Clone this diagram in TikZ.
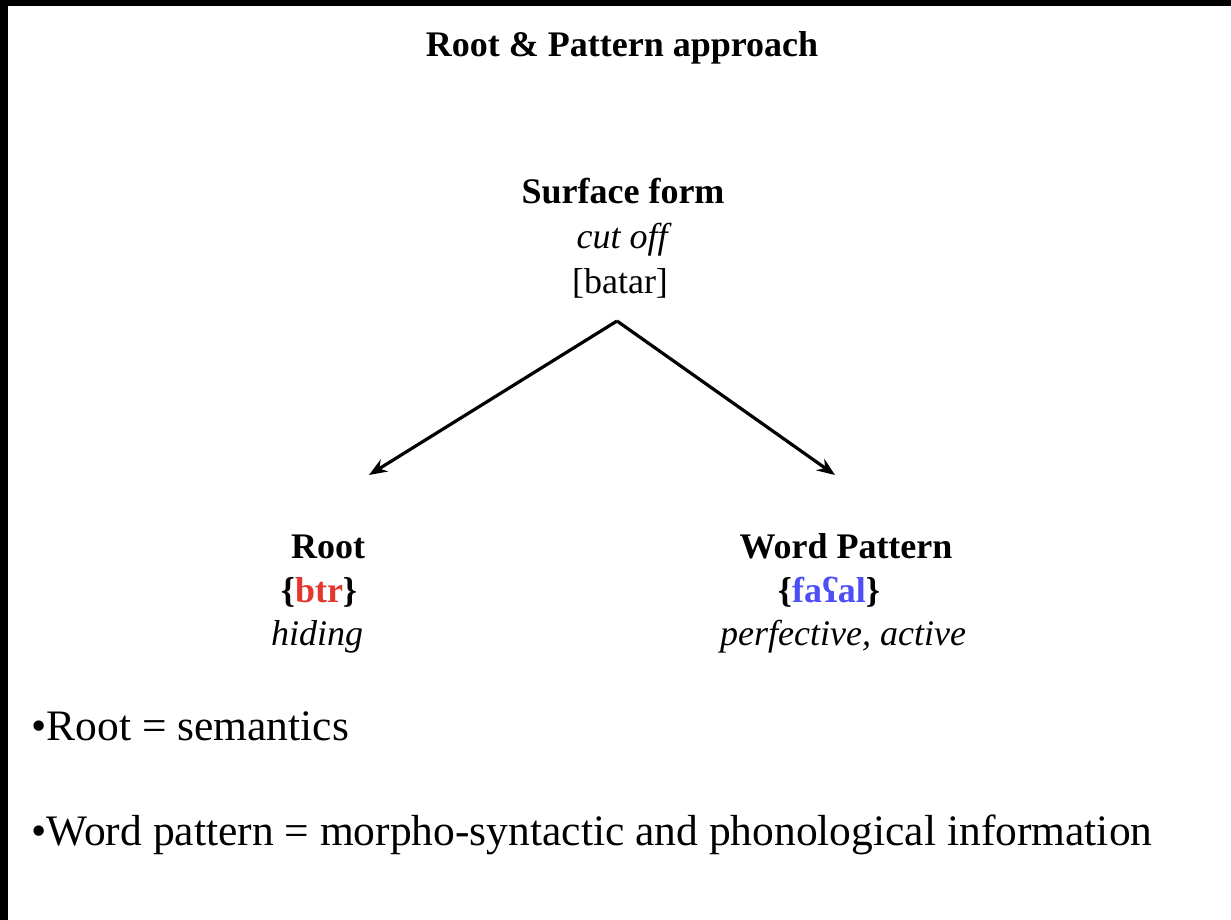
\documentclass[tikz,border=0pt]{standalone}
\usepackage{fontspec}
\setmainfont{Liberation Serif}
\usepackage{xcolor}
\usetikzlibrary{arrows.meta}
\definecolor{rootred}{HTML}{E4362C}
\definecolor{patblue}{HTML}{4E4EF6}
\newcommand{\midsize}{\fontsize{18}{22}\selectfont}

\begin{document}
\begin{tikzpicture}[x=0.5pt, y=-0.5pt,
    txt/.style={anchor=base, inner sep=0pt, font=\midsize},
    hd/.style={txt, font=\midsize\bfseries},
    gloss/.style={txt, font=\midsize\itshape},
    bullet/.style={anchor=base west, inner sep=0pt, font=\fontsize{21.75}{26}\selectfont}]
  \useasboundingbox (0,0) rectangle (1231,920);
  \fill[white] (0,0) rectangle (1231,920);
  \fill[black] (0,0) rectangle (1231,6);
  \fill[black] (0,0) rectangle (8,920);

  \node[hd] (title) at (622,57) {Root \& Pattern approach};

  % surface form
  \node[hd] (sf) at (623,203) {Surface form};
  \node[gloss] (sfgloss) at (622,248) {cut off};
  \node[txt] (sfform) at (620,293) {[batar]};
  \coordinate (apex) at (617,321);

  % root and pattern
  \node[hd] (root) at (328,558) {Root};
  \node[hd] (rootcons) at (319,602) {\{\textcolor{rootred}{btr}\}};
  \node[gloss] (rootgloss) at (317,645) {hiding};
  \node[hd] (pat) at (846,558) {Word Pattern};
  \node[hd] (patform) at (829,602) {\{\textcolor{patblue}{faʕal}\}};
  \node[gloss] (patgloss) at (843,645) {perfective, active};
  \coordinate (rootend) at (369,475);
  \coordinate (patend) at (835,475);

  \draw[-{Stealth[length=9pt,width=7pt]}, line width=1.6pt] (apex) -- (rootend);
  \draw[-{Stealth[length=9pt,width=7pt]}, line width=1.6pt] (apex) -- (patend);

  \node[bullet] (sem) at (31,740) {•Root = semantics};
  \node[bullet] (morph) at (31,845) {•Word pattern = morpho-syntactic and phonological information};
\end{tikzpicture}
\end{document}
